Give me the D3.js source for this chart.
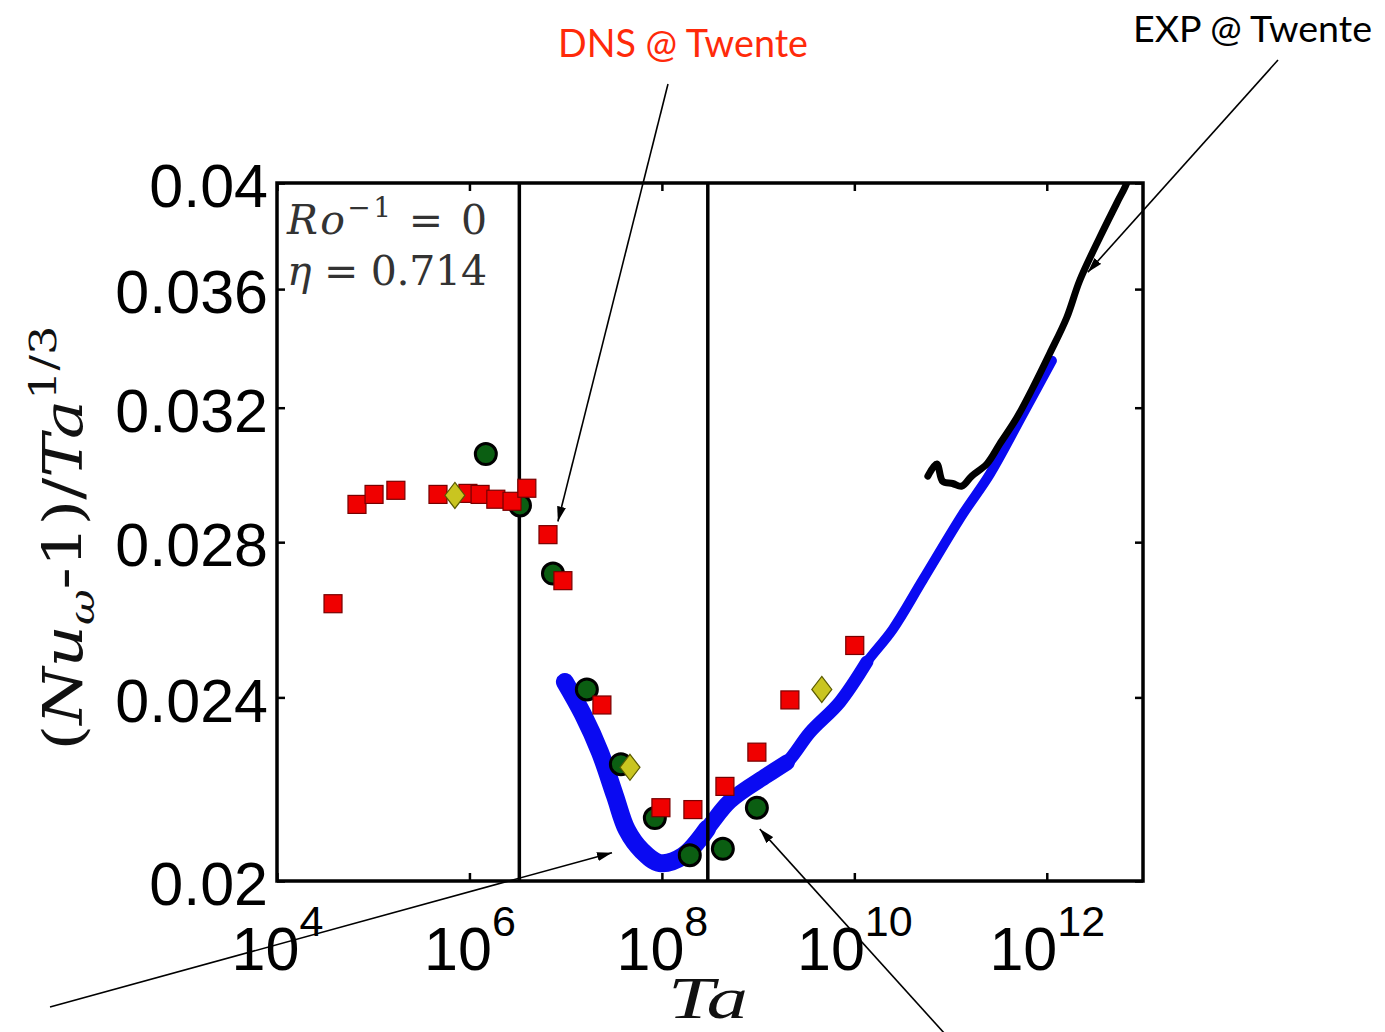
<!DOCTYPE html>
<html>
<head>
<meta charset="utf-8">
<script src="https://cdn.jsdelivr.net/npm/d3@7"></script>
<style>
  html, body { margin: 0; padding: 0; background: #fff; }
  svg { display: block; }
</style>
</head>
<body>
<svg width="1385" height="1032"></svg>
<script>
// ---- values ----
const yTicks = [0.02, 0.024, 0.028, 0.032, 0.036, 0.04];
const yTickLabels = ["0.02", "0.024", "0.028", "0.032", "0.036", "0.04"];
const xTicks = [1e4, 1e6, 1e8, 1e10, 1e12];
const xTickExps = ["4", "6", "8", "10", "12"];

// DNS @ Twente (red squares)
const squareTa = [3.82e4, 6.78e4, 1.02e5, 1.72e5, 4.71e5, 9.64e5, 1.29e6, 1.88e6, 2.77e6, 3.95e6,
                  6.55e6, 9.36e6, 2.38e7, 9.77e7, 2.10e8, 4.52e8, 9.71e8, 2.14e9, 1.01e10];
const squareNu = [0.02634, 0.02907, 0.02936, 0.02948, 0.02936, 0.02939, 0.02936, 0.02922, 0.02916, 0.02954,
                  0.02821, 0.02695, 0.02382, 0.02151, 0.02147, 0.02197, 0.02273, 0.02394, 0.02527];

// green circles
const circleTa = [1.48e6, 3.35e6, 7.38e6, 1.66e7, 3.75e7, 8.45e7, 1.95e8, 4.30e8, 9.71e8];
const circleNu = [0.03056, 0.02904, 0.02714, 0.02419, 0.02246, 0.02129, 0.02052, 0.02065, 0.02151];

// yellow diamonds
const diamondTa = [7.06e5, 4.66e7, 4.59e9];
const diamondNu = [0.02933, 0.02239, 0.02419];

// blue band
const blueTa = [9.82e6, 1.51e7, 2.27e7, 3.25e7, 4.33e7, 6.20e7, 9.53e7, 1.65e8, 2.94e8, 5.09e8,
                1.23e9, 1.99e9, 3.45e9, 7.07e9, 1.35e10, 2.51e10, 5.15e10, 1.34e11, 2.56e11, 5.64e11, 1.13e12];
const blueNu = [0.02437, 0.02360, 0.02273, 0.02177, 0.02104, 0.02061, 0.02036, 0.02050, 0.02106, 0.02165,
                0.02221, 0.02250, 0.02318, 0.02389, 0.02486, 0.02568, 0.02697, 0.02879, 0.02996, 0.03180, 0.03353];

// EXP @ Twente (black line)
const expTa = [5.81e10, 7.20e10, 8.30e10, 1.05e11, 1.31e11, 1.66e11, 2.38e11, 3.25e11, 4.88e11, 7.16e11,
               1.07e12, 1.61e12, 2.20e12, 3.56e12, 5.34e12, 6.78e12, 7.7e12];
const expNu = [0.02990, 0.03026, 0.02974, 0.02968, 0.02960, 0.02990, 0.03026, 0.03087, 0.03168, 0.03264,
               0.03376, 0.03499, 0.03631, 0.03790, 0.03921, 0.04000, 0.04080];

// vertical regime lines
const regimeTa = [3.3e6, 3.0e8];

// ---- layout ----
const svg = d3.select('svg');
const frame = { left: 277, right: 1143, top: 183, bottom: 881 };
const x = d3.scaleLog().domain([1e4, 1e13]).range([frame.left, frame.right]);
const y = d3.scaleLog().domain([0.02, 0.04]).range([frame.bottom, frame.top]);

const sansFont = '"Liberation Sans", Arial, Helvetica, sans-serif';
const serifFont = '"DejaVu Serif", "Liberation Serif", serif';

svg.append('clipPath').attr('id', 'plotclip')
  .append('rect')
  .attr('x', frame.left).attr('y', frame.top)
  .attr('width', frame.right - frame.left).attr('height', frame.bottom - frame.top);

// axes, ticks pointing inward
const gy = svg.append('g').attr('transform', `translate(${frame.left},0)`)
  .call(d3.axisLeft(y).tickValues(yTicks).tickFormat((d, i) => yTickLabels[i])
    .tickSize(-8).tickSizeOuter(0).tickPadding(9));
gy.select('.domain').remove();
gy.selectAll('.tick text')
  .attr('dy', '0.39em')
  .attr('fill', '#000')
  .style('font-family', sansFont).style('font-size', '61px');

const gr = svg.append('g').attr('transform', `translate(${frame.right},0)`)
  .call(d3.axisRight(y).tickValues(yTicks).tickFormat('').tickSize(-8).tickSizeOuter(0));
gr.select('.domain').remove();

const gt = svg.append('g').attr('transform', `translate(0,${frame.top})`)
  .call(d3.axisTop(x).tickValues(xTicks).tickFormat('').tickSize(-8).tickSizeOuter(0));
gt.select('.domain').remove();

const gx = svg.append('g').attr('transform', `translate(0,${frame.bottom})`)
  .call(d3.axisBottom(x).tickValues(xTicks).tickSize(-8).tickSizeOuter(0).tickPadding(46));
gx.select('.domain').remove();
gx.selectAll('.tick text').each(function(d, i) {
  const t = d3.select(this).text(null)
    .attr('fill', '#000')
    .style('font-family', sansFont).style('font-size', '61px');
  t.append('tspan').text('10');
  t.append('tspan').attr('dy', -34).style('font-size', '43px').text(xTickExps[i]);
});
svg.selectAll('.tick line').attr('stroke', '#000').attr('stroke-width', 2.5);

// ---- data layers ----
const plot = svg.append('g').attr('clip-path', 'url(#plotclip)');

// blue band: dense scatter, drawn thicker toward low Ta
const blue = blueTa.map((t, i) => [t, blueNu[i]]);
const curve = d3.line().x(d => x(d[0])).y(d => y(d[1])).curve(d3.curveCatmullRom);
[[Infinity, 10], [2e10, 13], [2e9, 16], [3e8, 18]].forEach(([maxTa, w]) => {
  plot.append('path')
    .attr('d', curve(blue.filter(d => d[0] <= maxTa)))
    .attr('fill', 'none')
    .attr('stroke', '#0a0af2')
    .attr('stroke-width', w)
    .attr('stroke-linecap', 'round')
    .attr('stroke-linejoin', 'round');
});

// experiment
plot.append('path')
  .datum(expTa.map((t, i) => [t, expNu[i]]))
  .attr('d', curve)
  .attr('fill', 'none')
  .attr('stroke', '#000')
  .attr('stroke-width', 7)
  .attr('stroke-linejoin', 'round')
  .attr('stroke-linecap', 'round');

// regime lines
plot.selectAll('line.regime').data(regimeTa).enter().append('line')
  .attr('class', 'regime')
  .attr('x1', d => x(d)).attr('x2', d => x(d))
  .attr('y1', frame.top).attr('y2', frame.bottom)
  .attr('stroke', '#000').attr('stroke-width', 3.5);

// circles
plot.selectAll('circle.dot').data(circleTa.map((t, i) => [t, circleNu[i]])).enter().append('circle')
  .attr('class', 'dot')
  .attr('cx', d => x(d[0])).attr('cy', d => y(d[1]))
  .attr('r', 10.5)
  .attr('fill', '#0b5e12').attr('stroke', '#000').attr('stroke-width', 3);

// squares
const sq = 18;
plot.selectAll('rect.sq').data(squareTa.map((t, i) => [t, squareNu[i]])).enter().append('rect')
  .attr('class', 'sq')
  .attr('x', d => x(d[0]) - sq / 2).attr('y', d => y(d[1]) - sq / 2)
  .attr('width', sq).attr('height', sq)
  .attr('fill', '#f00000').attr('stroke', '#700').attr('stroke-width', 1.2);

// diamonds
plot.selectAll('path.dia').data(diamondTa.map((t, i) => [t, diamondNu[i]])).enter().append('path')
  .attr('class', 'dia')
  .attr('transform', d => `translate(${x(d[0])},${y(d[1])})`)
  .attr('d', 'M0,-13 L10,0 L0,13 L-10,0 Z')
  .attr('fill', '#c9c520').attr('stroke', '#5a5a00').attr('stroke-width', 1.2);

// frame
svg.append('rect')
  .attr('x', frame.left).attr('y', frame.top)
  .attr('width', frame.right - frame.left).attr('height', frame.bottom - frame.top)
  .attr('fill', 'none').attr('stroke', '#000').attr('stroke-width', 3.5);

// ---- labels ----
svg.append('text')
  .attr('x', 668).attr('y', 1018)
  .attr('textLength', 80).attr('lengthAdjust', 'spacingAndGlyphs')
  .style('font-family', '"Liberation Serif", serif').style('font-style', 'italic').style('font-size', '60px')
  .attr('fill', '#111')
  .text('Ta');

const yl = svg.append('text')
  .attr('transform', 'translate(82,538) rotate(-90)')
  .attr('text-anchor', 'middle')
  .attr('textLength', 425).attr('lengthAdjust', 'spacingAndGlyphs')
  .style('font-family', serifFont).style('font-size', '54px')
  .attr('fill', '#111');
yl.append('tspan').text('(');
yl.append('tspan').style('font-style', 'italic').text('Nu');
yl.append('tspan').attr('dy', 12).style('font-size', '36px').style('font-style', 'italic').text('ω');
yl.append('tspan').attr('dy', -12).text('-1)/');
yl.append('tspan').style('font-style', 'italic').text('Ta');
yl.append('tspan').attr('dy', -26).style('font-size', '38px').text('1/3');

const ro = svg.append('text')
  .attr('x', 287).attr('y', 234)
  .attr('textLength', 200).attr('lengthAdjust', 'spacing')
  .style('font-family', serifFont).style('font-size', '41px')
  .attr('fill', '#333');
ro.append('tspan').style('font-style', 'italic').text('Ro');
ro.append('tspan').attr('dy', -17).style('font-size', '28px').text('−1');
ro.append('tspan').attr('dy', 17).text(' = 0');

const eta = svg.append('text')
  .attr('x', 287).attr('y', 285)
  .attr('textLength', 200).attr('lengthAdjust', 'spacing')
  .style('font-family', serifFont).style('font-size', '41px')
  .attr('fill', '#333');
eta.append('tspan').style('font-style', 'italic').text('η');
eta.append('tspan').text(' = 0.714');

// ---- annotations ----
svg.append('defs').append('marker')
  .attr('id', 'head')
  .attr('viewBox', '0 0 10 10')
  .attr('refX', 10).attr('refY', 5)
  .attr('markerUnits', 'userSpaceOnUse')
  .attr('markerWidth', 15).attr('markerHeight', 9)
  .attr('preserveAspectRatio', 'none')
  .attr('orient', 'auto')
  .append('path').attr('d', 'M0,0 L10,5 L0,10 Z').attr('fill', '#000');

const arrows = [
  { from: [668, 84], tip: [8.3e6, 0.02858] },
  { from: [1278, 60], tip: [2.67e12, 0.03661] },
  { from: [50, 1007], tip: [3.03e7, 0.02057] },
  { from: [945, 1034], tip: [1.04e9, 0.02106] }
];
svg.selectAll('line.arrow').data(arrows).enter().append('line')
  .attr('class', 'arrow')
  .attr('x1', d => d.from[0]).attr('y1', d => d.from[1])
  .attr('x2', d => x(d.tip[0])).attr('y2', d => y(d.tip[1]))
  .attr('stroke', '#000').attr('stroke-width', 1.6)
  .attr('marker-end', 'url(#head)');

const gillFont = 'Lato, "Open Sans", sans-serif';
svg.append('text')
  .attr('x', 558).attr('y', 57)
  .attr('textLength', 250).attr('lengthAdjust', 'spacingAndGlyphs')
  .style('font-family', gillFont).style('font-size', '39px')
  .attr('fill', '#ff2a0a')
  .text('DNS @ Twente');

svg.append('text')
  .attr('x', 1133).attr('y', 42)
  .attr('textLength', 239).attr('lengthAdjust', 'spacingAndGlyphs')
  .style('font-family', gillFont).style('font-size', '37px')
  .attr('fill', '#000')
  .text('EXP @ Twente');
</script>
</body>
</html>
